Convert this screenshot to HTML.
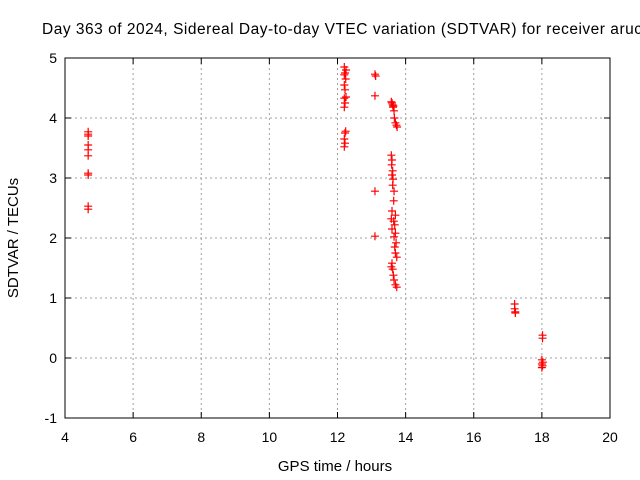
<!DOCTYPE html>
<html><head><meta charset="utf-8"><style>
body{margin:0;background:#fff;overflow:hidden}
svg{display:block;font-family:"Liberation Sans",sans-serif}
</style></head><body>
<svg id="chart" width="640" height="480">
<text x="42" y="34" font-size="15.5" fill="#000" textLength="600" lengthAdjust="spacing">Day 363 of 2024, Sidereal Day-to-day VTEC variation (SDTVAR) for receiver aruc</text>
<text x="335" y="471" font-size="15" text-anchor="middle">GPS time / hours</text>
<text transform="translate(18,238) rotate(-90)" font-size="15" text-anchor="middle">SDTVAR / TECUs</text>
<g id="grid"></g><g id="axes"></g><g id="pts"></g>
</svg>
<script>
const xTicks=[4,6,8,10,12,14,16,18,20];
const yTicks=[-1,0,1,2,3,4,5];
const xs=[4.68,4.68,4.68,4.68,4.68,4.68,4.68,4.68,4.68,4.68,
12.2,12.25,12.22,12.2,12.24,12.2,12.22,12.25,12.2,12.22,12.2,12.24,12.22,12.2,12.22,12.2,
13.1,13.12,13.1,13.1,13.1,
13.58,13.6,13.62,13.64,13.63,13.66,13.67,13.7,13.73,13.75,
13.58,13.6,13.59,13.62,13.6,13.63,13.62,13.66,13.65,13.6,13.7,13.58,13.65,13.68,13.6,13.7,13.66,13.72,13.68,13.7,13.74,13.6,13.58,13.62,13.64,13.66,13.7,13.74,
17.2,17.2,17.22,17.22,
18.02,18.02,18.0,18.03,18.0,18.02,18.0];
const ys=[3.77,3.73,3.70,3.55,3.47,3.37,3.08,3.05,2.53,2.48,
4.85,4.8,4.75,4.72,4.65,4.55,4.47,4.35,4.33,4.25,4.18,3.78,3.75,3.65,3.58,3.52,
4.73,4.7,4.37,2.78,2.03,
4.27,4.25,4.22,4.2,4.18,4.12,4.0,3.92,3.88,3.85,
3.38,3.3,3.22,3.12,3.05,2.98,2.88,2.78,2.62,2.45,2.38,2.32,2.28,2.22,2.15,2.08,2.02,1.92,1.85,1.75,1.68,1.58,1.52,1.48,1.38,1.3,1.22,1.18,
0.9,0.82,0.77,0.75,
0.38,0.33,-0.03,-0.07,-0.1,-0.13,-0.16];
const L=65,R=610,T=58,B=418;
const sx=v=>L+(v-4)/16*(R-L);
const sy=v=>T+(5-v)/6*(B-T);
const NS='http://www.w3.org/2000/svg';
function mk(tag,attrs,parent){const e=document.createElementNS(NS,tag);for(const k in attrs)e.setAttribute(k,attrs[k]);parent.appendChild(e);return e;}
const g=document.getElementById('grid'),a=document.getElementById('axes'),p=document.getElementById('pts');
xTicks.forEach(t=>{const x=sx(t);
 if(t>4&&t<20){const l=mk('line',{x1:x,x2:x,y1:T,y2:B,stroke:'#a0a0a0','stroke-dasharray':'2,3'},g);
 
 }
 mk('line',{x1:x,x2:x,y1:B,y2:B-6,stroke:'#000'},a);mk('line',{x1:x,x2:x,y1:T,y2:T+6,stroke:'#000'},a);
 const tx=mk('text',{x:x,y:B+24,'font-size':14,'text-anchor':'middle'},a);tx.textContent=t;
 
 
});
yTicks.forEach(t=>{const y=sy(t);
 if(t>-1&&t<5){const l=mk('line',{x1:L,x2:R,y1:y,y2:y,stroke:'#a0a0a0','stroke-dasharray':'2,3'},g);
 
 }
 mk('line',{x1:L,x2:L+6,y1:y,y2:y,stroke:'#000'},a);mk('line',{x1:R,x2:R-6,y1:y,y2:y,stroke:'#000'},a);
 const tx=mk('text',{x:L-8,y:y+5,'font-size':14,'text-anchor':'end'},a);tx.textContent=t;
 
 
});
const fr=mk('rect',{x:L,y:T,width:R-L,height:B-T,fill:'none',stroke:'#000'},a);


xs.forEach((v,i)=>{const x=sx(v),y=sy(ys[i]);
 const m=mk('path',{d:`M${x-4},${y}H${x+4}M${x},${y-4}V${y+4}`,stroke:'#f00','stroke-width':1.2},p);
 
 
});
</script>
</body></html>
